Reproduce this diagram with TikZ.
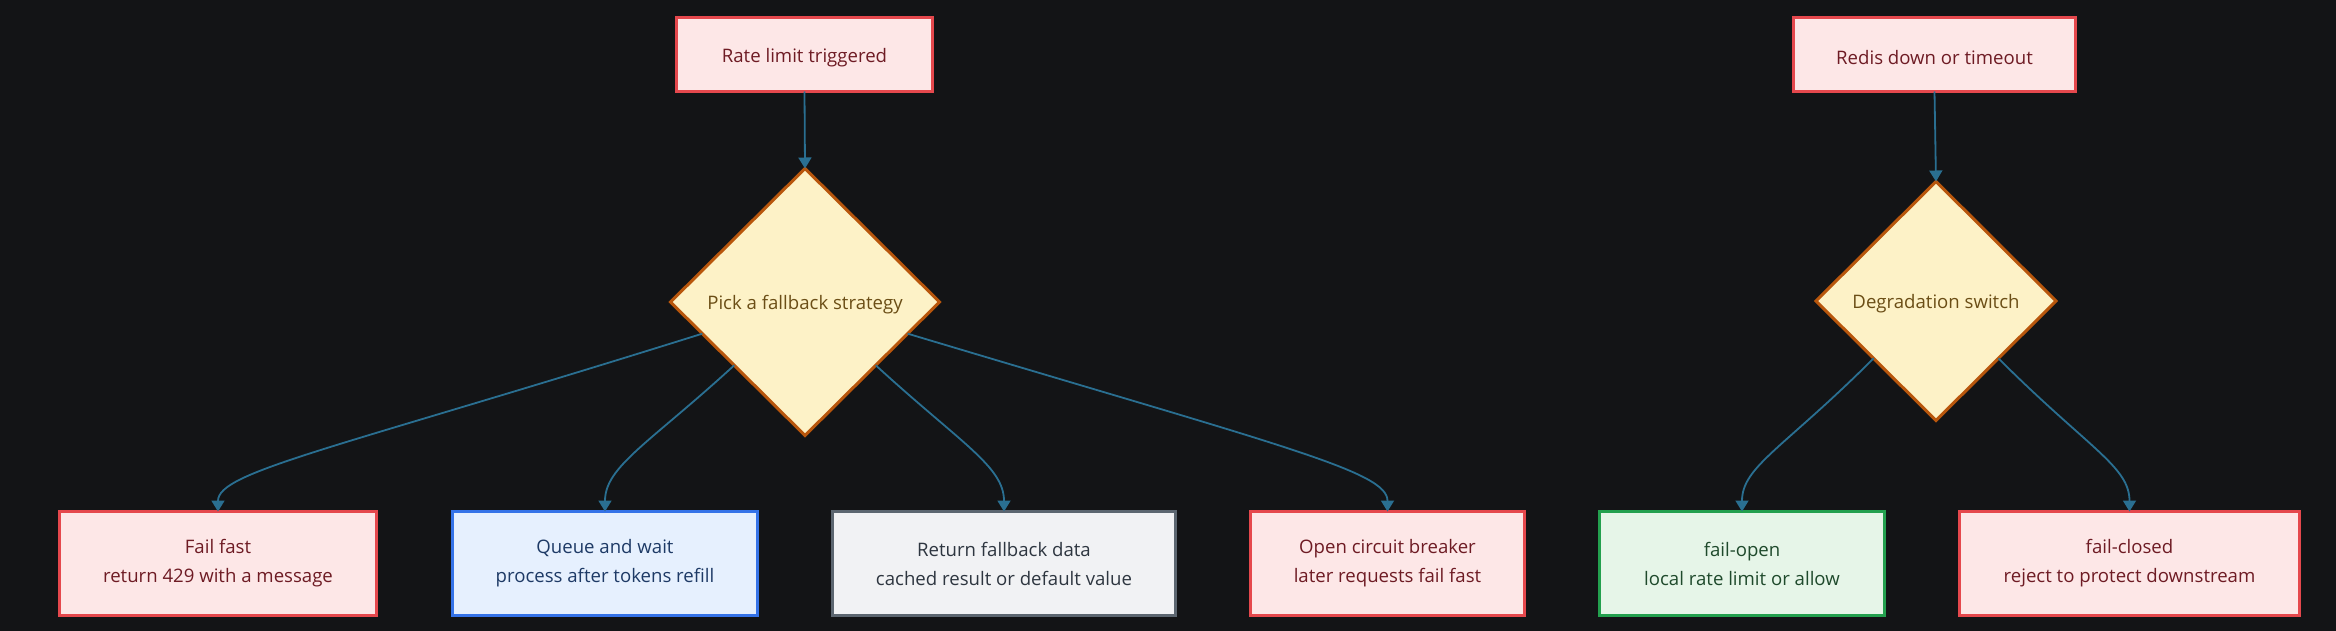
\documentclass[tikz,border=0pt]{standalone}
\usepackage{fontspec}
\setmainfont{Open Sans}
\usetikzlibrary{shapes.geometric,arrows.meta,calc}
\definecolor{bg}{HTML}{131416}
\definecolor{edgec}{HTML}{2A6F91}
\definecolor{redfill}{HTML}{FDE7E7}
\definecolor{redline}{HTML}{E5484D}
\definecolor{redtext}{HTML}{6E1B24}
\definecolor{bluefill}{HTML}{E6F0FE}
\definecolor{blueline}{HTML}{3573E8}
\definecolor{bluetext}{HTML}{1E3A66}
\definecolor{grayfill}{HTML}{F1F2F4}
\definecolor{grayline}{HTML}{5C6670}
\definecolor{graytext}{HTML}{2E3640}
\definecolor{greenfill}{HTML}{E6F5E8}
\definecolor{greenline}{HTML}{23A04E}
\definecolor{greentext}{HTML}{1F4A2C}
\definecolor{decfill}{HTML}{FDF2C7}
\definecolor{decline}{HTML}{B8560C}
\definecolor{dectext}{HTML}{6B4E16}
\newcommand\lowstrut{\rule{0pt}{10pt}}
\tikzset{
  box/.style={draw, line width=1.5pt, inner sep=0pt, outer sep=0pt, align=center,
    font=\fontsize{9.3}{14.5}\selectfont, execute at begin node=\lowstrut},
  redbox/.style={box, fill=redfill, draw=redline, text=redtext},
  bluebox/.style={box, fill=bluefill, draw=blueline, text=bluetext},
  graybox/.style={box, fill=grayfill, draw=grayline, text=graytext},
  greenbox/.style={box, fill=greenfill, draw=greenline, text=greentext},
  decision/.style={diamond, draw=decline, fill=decfill, text=dectext, line width=1.5pt,
    inner sep=0pt, outer sep=0pt, align=center, font=\fontsize{9.3}{14.5}\selectfont,
    execute at begin node=\lowstrut},
  conn/.style={draw=edgec, line width=0.9pt, -{Triangle[length=5.5pt,width=6.5pt]}},
}
\begin{document}
\begin{tikzpicture}[x=0.5pt,y=-0.5pt]
\fill[bg] (0,0) rectangle (2336,631);
\useasboundingbox (0,0) rectangle (2336,631);

% top nodes
\node[redbox, minimum width=128pt, minimum height=37pt] (rl) at (804.5,54.5) {Rate limit triggered};
\node[redbox, minimum width=141pt, minimum height=37pt] (rd) at (1934.5,54.5) {Redis down or timeout};

% decisions
\node[decision, minimum width=134.5pt, minimum height=133.5pt] (d1) at (805,302) {Pick a fallback strategy};
\node[decision, minimum width=120pt, minimum height=119.5pt] (d2) at (1936,301) {Degradation switch};

% bottom nodes
\node[redbox, minimum width=158.5pt, minimum height=52pt] (ff) at (218,563.5) {Fail fast\\return 429 with a message};
\node[bluebox, minimum width=152.5pt, minimum height=52pt] (qw) at (605,563.5) {Queue and wait\\process after tokens refill};
\node[graybox, minimum width=171.5pt, minimum height=52pt] (rf) at (1004,563.5) {Return fallback data\\cached result or default value};
\node[redbox, minimum width=137pt, minimum height=52pt] (oc) at (1387.5,563.5) {Open circuit breaker\\later requests fail fast};
\node[greenbox, minimum width=142.5pt, minimum height=52pt] (fo) at (1742,563.5) {fail-open\\local rate limit or allow};
\node[redbox, minimum width=170pt, minimum height=52pt] (fc) at (2129.5,563.5) {fail-closed\\reject to protect downstream};

% connectors
\draw[conn] (rl.south) -- (d1.north);
\draw[conn] (rd.south) -- (d2.north);

\draw[conn] ($(d1.west)!0.237!(d1.south)$) .. controls +(-370,116) and +(0,-40) .. (ff.north);
\draw[conn] ($(d1.west)!0.474!(d1.south)$) .. controls +(-85,78) and +(0,-45) .. (qw.north);
\draw[conn] ($(d1.east)!0.474!(d1.south)$) .. controls +(85,78) and +(0,-45) .. (rf.north);
\draw[conn] ($(d1.east)!0.237!(d1.south)$) .. controls +(380,114) and +(0,-40) .. (oc.north);

\draw[conn] ($(d2.west)!0.48!(d2.south)$) .. controls +(-90,90) and +(0,-45) .. (fo.north);
\draw[conn] ($(d2.east)!0.48!(d2.south)$) .. controls +(90,90) and +(0,-45) .. (fc.north);
\end{tikzpicture}
\end{document}
